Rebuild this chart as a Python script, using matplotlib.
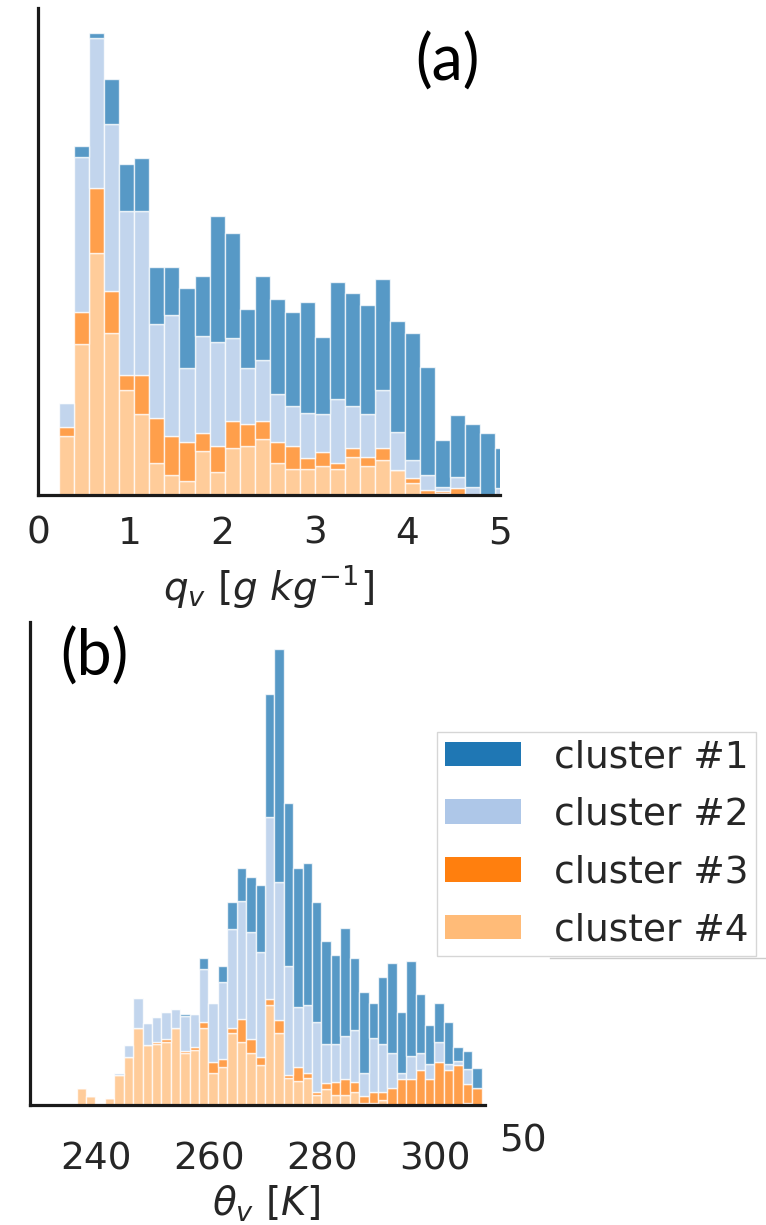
import numpy as np
import matplotlib
matplotlib.use("Agg")
import matplotlib.pyplot as plt
from matplotlib.patches import Patch
from matplotlib.lines import Line2D

# colours of the four clusters
cluster_names = ["cluster #1", "cluster #2", "cluster #3", "cluster #4"]
cluster_colors = ["#1f77b4", "#aec7e8", "#ff7f0e", "#ffbb78"]

# panel (a): q_v histogram, bins of 0.163 g/kg starting at 0.229
qv_start, qv_width = 0.229, 0.163
qv_c4 = [59, 150.7, 241.7, 162.3, 105, 81, 31.7, 19.7, 14, 44, 23.3, 47.3, 49.3, 55.7, 31.7,
         25.7, 25.7, 29.3, 25.7, 37.7, 29.3, 35, 25, 11.7, 1, 1.7, 0, 0, 0, 0]
qv_c3 = [9.3, 32.6, 65.6, 41.7, 15, 39, 45, 39.3, 38.7, 18.3, 25.7, 26.7, 21.7, 18.3, 21,
         23.6, 11.6, 14, 6, 9.6, 8.4, 12.3, 0, 5, 4, 2.3, 6.7, 0, 0, 0]
qv_c2 = [24, 155, 149.4, 167, 164, 164, 94.3, 121, 74, 96.7, 104.3, 82.7, 55.7, 61, 48.3,
         39.7, 44.6, 37.7, 64, 42, 43.3, 57.7, 37.7, 18.3, 15, 3.7, 11, 7.7, 0, 6.7]
qv_c1 = [0, 10.7, 5, 45, 47, 53, 56.7, 47.7, 80.6, 60.3, 126, 105, 59, 84.3, 94.7,
         94.3, 111.3, 77.3, 117.6, 112.4, 108.7, 111, 111.3, 126.7, 108.3, 47.3, 62.3, 63, 62.3, 40]

# panel (b): theta_v histogram, bins of 1.667 K starting at 236.6
th_start, th_width = 236.6, 1.667
th_c4 = [17.3, 9, 0, 6.7, 29.7, 48.3, 76.7, 60, 60.7, 62.7, 76.7, 52.3, 55, 77.3, 32.3,
         38.3, 71.7, 63, 52.3, 40, 100, 71.7, 26.7, 24.3, 26.7, 10, 16, 10, 10, 13.3,
         2.3, 2.3, 5, 0, 0, 0, 0, 0, 0, 0, 0, 2.3, 0]
th_c3 = [0, 0, 0, 0, 0, 0, 0, 0, 2, 3.7, 0, 2, 2.7, 5.7, 11,
         7.3, 5, 22.7, 14, 8.3, 5.7, 13.3, 3.3, 13.3, 5, 2.7, 5.7, 13.3, 15.7, 10,
         6.7, 10.3, 7.7, 17.3, 25.7, 25.7, 35, 25.7, 43.3, 35, 40, 18.7, 17.3]
th_c2 = [0, 0, 0, 0, 2, 11.7, 30.7, 22.3, 25.7, 27, 19.7, 34.3, 33.3, 53.3, 58.3,
         77.7, 99, 118.7, 107, 105, 182.7, 138.3, 109, 60, 68.3, 70.7, 39, 37.3, 43.3, 51.7,
         23.3, 54, 48, 35, 6.7, 23.3, 17.3, 15, 20, 5.7, 4.3, 15, 0]
th_c1 = [0, 0, 0, 0, 0, 0, 0, 0, 0, 0, 0, 2.3, 0, 11, 0,
         15.7, 27.7, 32.3, 55, 66.7, 122.7, 232.3, 162.7, 139, 142.3, 120, 103.7, 89.3, 108.3, 71.7,
         81, 35, 67, 89.3, 60.7, 95.3, 58.7, 39.3, 38.3, 42, 13.3, 18, 20]

W, H = 766, 1225
fig = plt.figure(figsize=(W / 100, H / 100), dpi=100)


def stacked(ax, start, width, layers):
    # layers bottom -> top: cluster 4, 3, 2, 1
    n = len(layers[0][0])
    lefts = start + width * np.arange(n)
    bottom = np.zeros(n)
    for vals, col in layers:
        vals = np.array(vals, dtype=float)
        ax.bar(lefts, vals, width=width, bottom=bottom, align="edge", color=col,
               alpha=0.75, edgecolor="white", linewidth=1.0)
        bottom += vals


def style(ax, fs, pad):
    for s in ["top", "right"]:
        ax.spines[s].set_visible(False)
    for s in ["left", "bottom"]:
        ax.spines[s].set_linewidth(2.3)
        ax.spines[s].set_color("#1a1a1a")
    ax.set_yticks([])
    ax.tick_params(axis="x", length=0, pad=pad, labelsize=fs, labelcolor="#262626")


def frac(l, t, r, b):
    return [l / W, 1 - b / H, (r - l) / W, (b - t) / H]


# panel (a)
ax1 = fig.add_axes(frac(38, 8, 499.5, 495))
stacked(ax1, qv_start, qv_width,
        [(qv_c4, cluster_colors[3]), (qv_c3, cluster_colors[2]),
         (qv_c2, cluster_colors[1]), (qv_c1, cluster_colors[0])])
ax1.set_xlim(0, 5)
ax1.set_ylim(0, 487)
ax1.set_xticks([0, 1, 2, 3, 4, 5])
style(ax1, 27, 15)
ax1.set_xlabel(r"$q_v\ [g\ kg^{-1}]$", fontsize=28, color="#262626", labelpad=8)

# panel (b)
ax2 = fig.add_axes(frac(30, 622, 484.5, 1105))
stacked(ax2, th_start, th_width,
        [(th_c4, cluster_colors[3]), (th_c3, cluster_colors[2]),
         (th_c2, cluster_colors[1]), (th_c1, cluster_colors[0])])
ax2.set_xlim(228.35, 308.8)
ax2.set_ylim(0, 483)
ax2.set_xticks([240, 260, 280, 300])
style(ax2, 27, 26)
ax2.set_xlabel(r"$\theta_v\ [K]$", fontsize=28, color="#262626")
ax2.xaxis.set_label_coords(0.52, -0.163)

# panel labels and stray tick label
fig.text(447 / W, 1 - 62 / H, "(a)", fontsize=45, family="Lato", ha="center", va="center")
fig.text(94 / W, 1 - 657 / H, "(b)", fontsize=45, family="Lato", ha="center", va="center")
fig.text(523 / W, 1 - 1141 / H, "50", fontsize=27, color="#262626", ha="center", va="center")

# legend (runs off the right edge, as in the original)
handles = [Patch(facecolor=c, edgecolor="none") for c in cluster_colors]
fig.legend(handles, cluster_names, loc="upper left", bbox_to_anchor=(437 / W, 1 - 731.5 / H),
           bbox_transform=fig.transFigure, fontsize=27, frameon=True, fancybox=False,
           edgecolor="#cccccc", handlelength=2.04, handleheight=0.63, labelspacing=0.58,
           handletextpad=0.88, borderpad=0.2, borderaxespad=0, labelcolor="#262626")
# faint rule showing under the legend box
fig.add_artist(Line2D([550 / W, 1.0], [1 - 958 / H, 1 - 958 / H], color="#cccccc", lw=1.0))

fig.savefig("out.png", dpi=100)
